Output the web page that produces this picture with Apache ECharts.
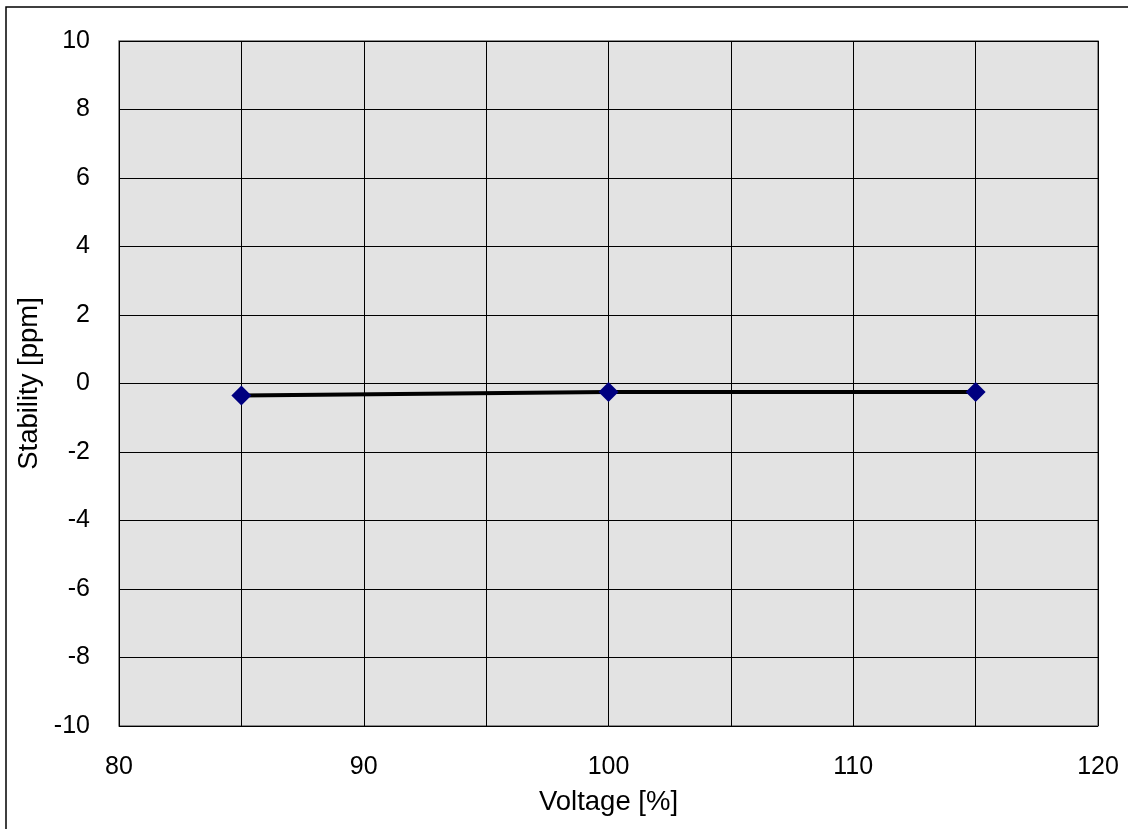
<!DOCTYPE html>
<html><head><meta charset="utf-8">
<script src="https://cdn.jsdelivr.net/npm/echarts@6/dist/echarts.min.js"></script>
<style>html,body{margin:0;padding:0;background:#fff}#c{width:1128px;height:829px}</style>
</head><body><div id="c"></div>
<script>
const voltage = [85, 100, 115];
const stability = [-0.35, -0.25, -0.25];
const xTicks = [80, 90, 100, 110, 120];
const yTicks = [-10, -8, -6, -4, -2, 0, 2, 4, 6, 8, 10];

const chart = echarts.init(document.getElementById('c'), null, {renderer: 'canvas'});
const font = 'Liberation Sans, Arial, sans-serif';
chart.setOption({
  animation: false,
  backgroundColor: '#fff',
  graphic: [{
    type: 'rect', shape: {x: 6, y: 7, width: 1200, height: 900},
    style: {fill: 'none', stroke: '#000', lineWidth: 1.5}, z: -1
  }],
  grid: {left: 119, top: 41, width: 979, height: 685, show: true,
    backgroundColor: '#e3e3e3', borderColor: '#6e6e6e', borderWidth: 1.5},
  xAxis: {
    type: 'value', min: xTicks[0], max: xTicks[xTicks.length - 1], interval: 5,
    name: 'Voltage [%]', nameLocation: 'middle', nameGap: 62,
    nameTextStyle: {fontFamily: font, fontSize: 27.5, color: '#000'},
    axisLine: {show: false}, axisTick: {show: false},
    axisLabel: {fontFamily: font, fontSize: 25, color: '#000', margin: 29,
      formatter: v => xTicks.includes(v) ? String(v) : ''},
    splitLine: {show: true, lineStyle: {color: '#000', width: 1}}
  },
  yAxis: {
    type: 'value', min: yTicks[0], max: yTicks[yTicks.length - 1], interval: 2,
    name: 'Stability [ppm]', nameLocation: 'middle', nameGap: 67,
    nameTextStyle: {fontFamily: font, fontSize: 27.5, color: '#000'},
    axisLine: {show: false}, axisTick: {show: false},
    axisLabel: {fontFamily: font, fontSize: 25, color: '#000', margin: 29},
    splitLine: {show: true, lineStyle: {color: '#000', width: 1}}
  },
  series: [{
    type: 'line',
    data: voltage.map((v, i) => [v, stability[i]]),
    lineStyle: {color: '#000', width: 4},
    symbol: 'diamond', symbolSize: 20,
    itemStyle: {color: '#000080', borderWidth: 0},
    z: 5
  }]
});
</script></body></html>
